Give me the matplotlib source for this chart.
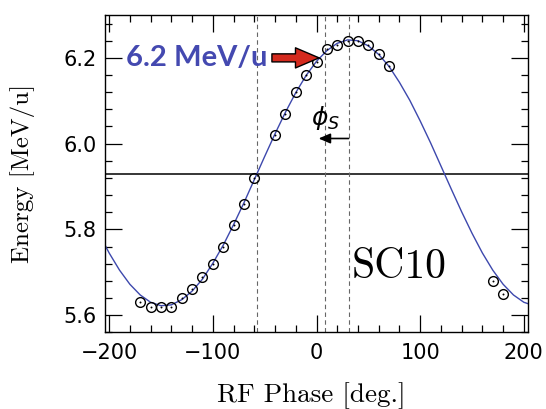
import matplotlib
matplotlib.use("Agg")
import matplotlib.pyplot as plt
from matplotlib.ticker import MultipleLocator

# measured data (RF phase [deg], energy [MeV/u])
phase_meas = [-170, -160, -150, -140, -130, -120, -110, -100, -90, -80, -70, -60,
              -40, -30, -20, -10, 0, 10, 20, 30, 40, 50, 60, 70, 170, 180]
energy_meas = [5.63, 5.62, 5.62, 5.62, 5.64, 5.66, 5.69, 5.72, 5.76, 5.81, 5.86, 5.92,
               6.02, 6.07, 6.12, 6.16, 6.19, 6.22, 6.23, 6.24, 6.24, 6.23, 6.21, 6.18,
               5.68, 5.65]

# fitted curve
phase_fit = [-210, -200, -190, -180, -170, -160, -150, -140, -130, -120, -110, -100,
             -90, -80, -70, -60, -50, -40, -30, -20, -10, 0, 10, 20, 30, 40, 50, 60,
             70, 80, 90, 100, 110, 120, 130, 140, 150, 160, 170, 180, 190, 200, 210]
energy_fit = [5.791, 5.745, 5.705, 5.672, 5.647, 5.630, 5.622, 5.624, 5.636, 5.656,
              5.684, 5.721, 5.763, 5.811, 5.862, 5.916, 5.970, 6.023, 6.073, 6.119,
              6.159, 6.192, 6.217, 6.234, 6.242, 6.240, 6.228, 6.208, 6.180, 6.143,
              6.101, 6.053, 6.002, 5.948, 5.894, 5.841, 5.791, 5.745, 5.705, 5.672,
              5.647, 5.630, 5.622]

energy_ref = 5.93
phase_lines = [-57, 8, 31]
xticks = [-200, -100, 0, 100, 200]
yticks = [5.6, 5.8, 6.0, 6.2]

fig = plt.figure(figsize=(5.46, 4.09), dpi=100)
ax = fig.add_axes([105/546, (409-332.3)/409, 423/546, 317.3/409])

blue = '#3d48ad'
ax.plot(phase_fit, energy_fit, color=blue, lw=1.0, zorder=2)
ax.axhline(energy_ref, color='black', lw=1.1, zorder=1)
for xv in phase_lines:
    ax.axvline(xv, color='#666666', lw=0.8, ls=(0, (4, 3)), zorder=1)

ax.plot(phase_meas, energy_meas, ls='none', marker='o', ms=7, mfc='none',
        mec='black', mew=1.0, zorder=3)
ax.plot(phase_meas, energy_meas, ls='none', marker='o', ms=1.4, mfc='black',
        mec='black', mew=0, zorder=3)

ax.set_xlim(-204, 204)
ax.set_ylim(5.56, 6.30)
ax.set_xticks(xticks)
ax.set_yticks(yticks)
ax.set_xticklabels(['\u2212200', '\u2212100', '0', '100', '200'])
ax.set_yticklabels(['5.6', '5.8', '6.0', '6.2'])
ax.xaxis.set_minor_locator(MultipleLocator(20))
ax.yaxis.set_minor_locator(MultipleLocator(0.04))
ax.tick_params(which='both', direction='in', top=True, right=True, width=0.9)
ax.tick_params(which='major', length=12, labelsize=15)
ax.tick_params(which='minor', length=5)
ax.tick_params(axis='x', pad=8)
ax.tick_params(axis='y', pad=6)
for lab in ax.get_xticklabels() + ax.get_yticklabels():
    lab.set_family('DejaVu Sans')
for s in ax.spines.values():
    s.set_linewidth(1.0)

ax.set_xlabel('RF Phase [deg.]', family='cmr10', fontsize=19.5, va='center')
ax.xaxis.set_label_coords(0.488, -0.198)
ax.set_ylabel('Energy [MeV/u]', family='cmr10', fontsize=18, va='center')
ax.yaxis.set_label_coords(-0.194, 0.502)

ax.text(34, 5.687, 'SC10', family='cmr10', fontsize=30, ha='left', va='baseline')

ax.text(-47, 6.2, '6.2 MeV/u', color='#4449b0', family='Lato', fontweight='bold',
        fontsize=21, ha='right', va='center')
ax.annotate('', xy=(2.5, 6.2), xytext=(-43, 6.2),
            arrowprops=dict(arrowstyle='simple,head_length=1.7,head_width=1.45,tail_width=0.58',
                            fc='#d42a1e', ec='black', lw=1.0, shrinkA=0, shrinkB=0,
                            mutation_scale=10))

ax.text(8.4, 6.06, r'$\phi_S$', fontsize=18, ha='center', va='center')
ax.annotate('', xy=(2, 6.012), xytext=(31, 6.012),
            arrowprops=dict(arrowstyle='-|>,head_length=0.7,head_width=0.3',
                            color='black', lw=1.2, shrinkA=0, shrinkB=0,
                            mutation_scale=10))

fig.savefig('out.png', dpi=100)
